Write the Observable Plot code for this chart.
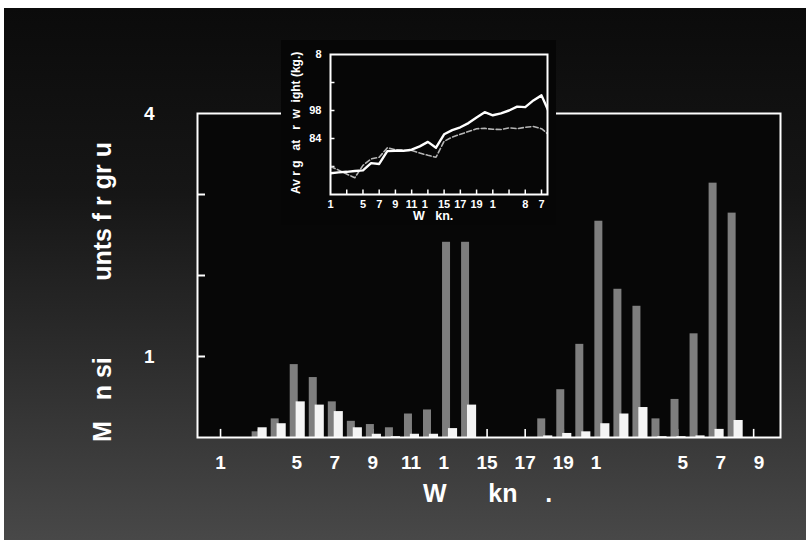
<!DOCTYPE html>
<html><head><meta charset="utf-8">
<script src="https://cdn.jsdelivr.net/npm/d3@7"></script>
<script src="https://cdn.jsdelivr.net/npm/@observablehq/plot@0.6"></script>
<style>
html,body{margin:0;padding:0;background:#fff;}
#wrap{position:relative;width:806px;height:540px;overflow:hidden;}
#bg{position:absolute;left:4px;top:8px;right:0;bottom:0;background:linear-gradient(#0b0b0b 0%, #161616 35%, #2c2c2c 65%, #484848 100%);}
#main,#inset{position:absolute;}
#main{left:0;top:0;}
#inset{left:281px;top:40px;}
svg text{font-family:"Liberation Sans",Arial,sans-serif;font-weight:bold;}
svg text.pre{white-space:pre;}
</style></head><body>
<div id="wrap"><div id="bg"></div><div id="main"></div><div id="inset"></div></div>
<script>
// ---- main chart data (weeks 1..29) ----
const weeks = [1,2,3,4,5,6,7,8,9,10,11,12,13,14,15,16,17,18,19,20,21,22,23,24,25,26,27,28,29];
const grayValues  = [0,0,0.07,0.23,0.90,0.74,0.44,0.20,0.16,0.12,0.29,0.34,2.41,2.41,0,0,0,0.23,0.59,1.15,2.67,1.83,1.62,0.23,0.47,1.28,3.14,2.77,0];
const whiteValues = [0,0,0.12,0.17,0.44,0.40,0.32,0.12,0.04,0.01,0.04,0.04,0.11,0.40,0,0,0,0.02,0.05,0.07,0.17,0.29,0.37,0.01,0.01,0.02,0.10,0.21,0];
const xTickWeeks  = [1,3,5,7,9,11,13,15,17,19,21,23,25,27,29];
const xTickLabels = ["1","","5","7","9","11","1\u2007","15","17","19","1\u2007","","\u20075","\u20077","\u20079"];
const yTicks      = [1,2,3];
const yTickLabelValues = [1,4];
const yTickLabels = ["1","4"];
const yTitle = "M   n si           unts f r gr u";
const xTitle = "W      kn    .";

// ---- inset data (weeks 1..28) ----
const insetWeeks = [1,2,3,4,5,6,7,8,9,10,11,12,13,14,15,16,17,18,19,20,21,22,23,24,25,26,27,28];
const insetWhite = [0.76,0.79,0.81,0.84,0.86,1.12,1.09,1.55,1.56,1.56,1.60,1.72,1.88,1.67,2.15,2.30,2.40,2.55,2.75,2.94,2.83,2.90,3.00,3.14,3.12,3.36,3.54,2.89];
const insetGray  = [1.00,0.87,0.73,0.60,1.04,1.27,1.33,1.67,1.60,1.58,1.57,1.48,1.40,1.33,1.90,2.05,2.15,2.25,2.35,2.36,2.33,2.32,2.38,2.35,2.40,2.43,2.35,2.11];
const insetXTickWeeks  = [1,3,5,7,9,11,13,15,17,19,21,23,25,27];
const insetXTickLabels = ["1","","5","7","9","11","1\u2007","15","17","19","1","","8","7"];
const insetYTicks = [1,2,3,4];
const insetYLabelValues = [5,3,2];
const insetYLabels = ["8","98","84"];
const insetYTitle = "Av r g   at   r  w  ight (kg.)";
const insetXTitle = "W   kn.";

const bars = weeks.map((w,i)=>({week:w, gray:grayValues[i], white:whiteValues[i]}));
const xLabelMap = new Map(xTickWeeks.map((w,i)=>[w, xTickLabels[i]]));
const yLabelMap = new Map(yTickLabelValues.map((v,i)=>[v, yTickLabels[i]]));
const line = insetWeeks.map((w,i)=>({week:w, white:insetWhite[i], gray:insetGray[i]}));
const ixLabelMap = new Map(insetXTickWeeks.map((w,i)=>[w, insetXTickLabels[i]]));
const iyLabelMap = new Map(insetYLabelValues.map((v,i)=>[v, insetYLabels[i]]));

const xDom = [-0.21, 30.41];
const main = Plot.plot({
  width: 806, height: 540,
  marginLeft: 197, marginRight: 26, marginTop: 113, marginBottom: 103,
  style: {background: "transparent", overflow: "visible"},
  x: {domain: xDom, axis: null},
  y: {domain: [0, 4], axis: null},
  marks: [
    Plot.frame({fill: "#070707", stroke: "none"}),
    Plot.ruleX(xTickWeeks, {x: d => d, y1: 0, y2: 0.1, stroke: "white", strokeWidth: 1.6}),
    Plot.rectY(bars.filter(d => d.gray > 0), {x1: d => d.week - 0.34, x2: d => d.week + 0.08, y1: 0, y2: "gray", fill: "#7e7e7e"}),
    Plot.rectY(bars.filter(d => d.white > 0), {x1: d => d.week - 0.03, x2: d => d.week + 0.45, y1: 0, y2: "white", fill: "#f4f4f4"}),
    Plot.ruleY(yTicks, {y: d => d, x1: xDom[0], x2: xDom[0] + 0.42, stroke: "white", strokeWidth: 2}),
    Plot.frame({stroke: "white", strokeWidth: 2}),
    Plot.axisX(xTickWeeks, {label: null, tickSize: 0, tickPadding: 18, tickFormat: d => xLabelMap.get(d), fontSize: 19, fill: "white", fontWeight: "bold"}),
    Plot.axisY(yTickLabelValues, {label: null, tickSize: 0, tickPadding: 43, tickFormat: d => yLabelMap.get(d), fontSize: 19, fill: "white", fontWeight: "bold"})
  ]
});
document.getElementById("main").appendChild(main);
const ms = d3.select(main);
ms.append("text").attr("class", "pre").attr("text-anchor", "start").attr("x", 423).attr("y", 502).attr("fill", "white").attr("font-size", 25).text(xTitle);
ms.append("text").attr("class", "pre").attr("text-anchor", "start").attr("transform", "translate(111,442) rotate(-90)").attr("fill", "white").attr("font-size", 25).text(yTitle);

const inset = Plot.plot({
  width: 275, height: 185,
  marginLeft: 49, marginRight: 9, marginTop: 14, marginBottom: 31,
  style: {background: "#060606", overflow: "visible"},
  x: {domain: [1, 27.74], axis: null},
  y: {domain: [0, 5], axis: null},
  marks: [
    Plot.ruleY(insetYTicks, {y: d => d, x1: 1, x2: 1.55, stroke: "white", strokeWidth: 1.5}),
    Plot.ruleX(insetXTickWeeks.slice(1), {x: d => d, y1: 0, y2: 0.16, stroke: "white", strokeWidth: 1.5}),
    Plot.line(line, {x: "week", y: "gray", stroke: "#b5b5b5", strokeWidth: 1.6, strokeDasharray: "5,2.5", clip: true}),
    Plot.line(line, {x: "week", y: "white", stroke: "white", strokeWidth: 2.4, clip: true}),
    Plot.frame({stroke: "white", strokeWidth: 2}),
    Plot.axisX(insetXTickWeeks, {label: null, tickSize: 0, tickPadding: 6, tickFormat: d => ixLabelMap.get(d), fontSize: 11, fill: "white", fontWeight: "bold"}),
    Plot.axisY(insetYLabelValues, {label: null, tickSize: 0, tickPadding: 9, tickFormat: d => iyLabelMap.get(d), fontSize: 11, fill: "white", fontWeight: "bold"})
  ]
});
document.getElementById("inset").appendChild(inset);
const is = d3.select(inset);
is.append("text").attr("class", "pre").attr("text-anchor", "start").attr("x", 132).attr("y", 180).attr("fill", "white").attr("font-size", 12.5).text(insetXTitle);
is.append("text").attr("class", "pre").attr("text-anchor", "start").attr("transform", "translate(19,154) rotate(-90)").attr("fill", "white").attr("font-size", 12).text(insetYTitle);
</script>
</body></html>
